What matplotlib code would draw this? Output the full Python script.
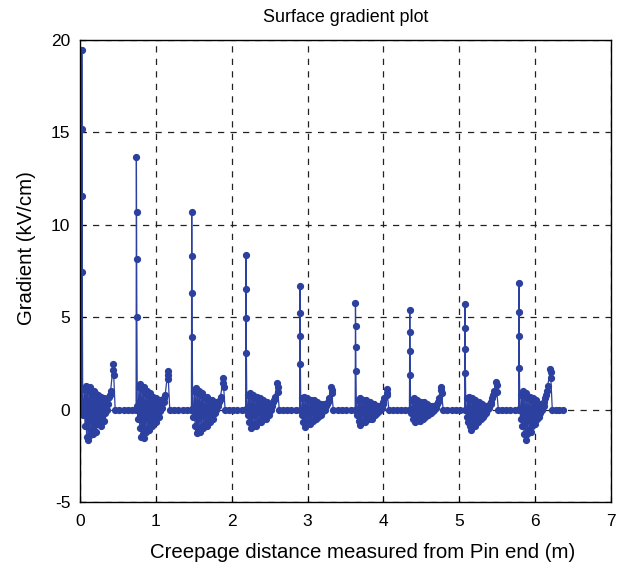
import numpy as np
import matplotlib.pyplot as plt

plt.rcParams['font.family'] = ['Liberation Sans', 'DejaVu Sans']
plt.rcParams['axes.unicode_minus'] = False

# %% data
spike_x = [0.022, 0.742, 1.472, 2.187, 2.899, 3.632, 4.348, 5.076, 5.788]
spike_vals = [
    [19.45, 15.2, 11.55, 7.44],
    [13.68, 10.67, 8.13, 5.02],
    [10.67, 8.32, 6.29, 3.91],
    [8.36, 6.50, 4.93, 3.06],
    [6.70, 5.24, 4.00, 2.45],
    [5.75, 4.52, 3.40, 2.08],
    [5.38, 4.21, 3.18, 1.87],
    [5.69, 4.43, 3.26, 1.96],
    [6.86, 5.29, 4.00, 2.23],
]
cluster_vals = [
    [0.1, -0.3, 1.1, -0.9, 1.3, -1.5, 1.2, -1.65, 1.0, -1.4, 1.2, -1.1, 0.8, -1.3,
     1.0, -0.9, 0.9, -1.2, 0.6, -0.8, 0.8, -0.6, 0.5, -0.9, 0.7, -0.4, 0.4, -0.6,
     0.6, -0.2, 0.5, 0.0, 0.6, 0.3, 0.7, 0.8, 1.0],
    [0.2, -0.5, 1.2, -1.0, 1.4, -1.5, 1.1, -1.3, 1.2, -1.55, 0.9, -1.2, 1.0, -1.0,
     0.8, -1.1, 0.9, -0.8, 0.6, -0.9, 0.7, -0.5, 0.5, -0.7, 0.6, -0.3, 0.4, -0.4,
     0.5, -0.1, 0.4, 0.1, 0.5, 0.4, 0.6, 0.8],
    [0.1, -0.4, 1.0, -0.9, 1.15, -1.27, 0.9, -1.1, 1.0, -1.2, 0.8, -0.9, 0.9, -1.0,
     0.7, -0.8, 0.6, -0.9, 0.7, -0.6, 0.5, -0.7, 0.4, -0.4, 0.5, -0.5, 0.3, -0.2,
     0.4, 0.0, 0.3, 0.2, 0.4, 0.5, 0.7],
    [0.1, -0.3, 0.8, -0.7, 0.9, -1.0, 0.7, -0.9, 0.8, -0.8, 0.6, -0.9, 0.7, -0.7,
     0.5, -0.6, 0.6, -0.7, 0.4, -0.5, 0.5, -0.4, 0.3, -0.5, 0.4, -0.2, 0.3, -0.3,
     0.3, 0.0, 0.3, 0.2, 0.4, 0.5, 0.7],
    [0.0, -0.3, 0.6, -0.7, 0.7, -0.93, 0.6, -0.8, 0.6, -0.7, 0.5, -0.8, 0.5, -0.6,
     0.4, -0.6, 0.5, -0.5, 0.3, -0.5, 0.4, -0.4, 0.3, -0.3, 0.3, -0.3, 0.2, -0.1,
     0.3, 0.0, 0.2, 0.2, 0.3, 0.4, 0.6],
    [0.0, -0.3, 0.5, -0.6, 0.6, -0.84, 0.5, -0.7, 0.5, -0.6, 0.4, -0.7, 0.5, -0.5,
     0.4, -0.5, 0.4, -0.4, 0.3, -0.5, 0.3, -0.3, 0.3, -0.3, 0.2, -0.2, 0.2, -0.1,
     0.2, 0.0, 0.2, 0.1, 0.3, 0.4, 0.6],
    [0.0, -0.2, 0.5, -0.5, 0.6, -0.66, 0.5, -0.6, 0.5, -0.5, 0.4, -0.6, 0.4, -0.4,
     0.3, -0.5, 0.4, -0.4, 0.3, -0.3, 0.3, -0.3, 0.2, -0.2, 0.2, -0.2, 0.2, -0.1,
     0.2, 0.0, 0.2, 0.1, 0.3, 0.4, 0.6],
    [0.0, -0.4, 0.6, -0.7, 0.7, -0.9, 0.5, -1.1, 0.6, -0.8, 0.5, -0.9, 0.5, -0.6,
     0.4, -0.7, 0.4, -0.5, 0.3, -0.5, 0.3, -0.4, 0.2, -0.3, 0.2, -0.2, 0.2, 0.0,
     0.2, 0.1, 0.3, 0.3, 0.4, 0.6, 0.8, 1.0],
    [0.1, -0.5, 0.8, -0.9, 1.0, -1.3, 0.7, -1.65, 0.9, -1.3, 0.6, -1.1, 0.7, -1.2,
     0.5, -0.9, 0.6, -0.7, 0.4, -0.8, 0.5, -0.5, 0.3, -0.4, 0.3, -0.2, 0.2, 0.0,
     0.3, 0.2, 0.4, 0.6, 0.8, 1.0, 1.3],
]
bump_vals = [
    [2.45, 2.15, 1.85],
    [2.10, 1.87, 1.65],
    [1.69, 1.42, 1.23],
    [1.42, 1.20, 0.96],
    [1.23, 1.05, 0.87],
    [1.09, 0.90, 0.80],
    [1.23, 1.05, 0.87],
    [1.50, 1.32, 0.96],
    [2.17, 2.05, 1.70],
]
end_x = 6.37

# %% assemble the line
xs, ys = [0.0], [0.0]
for k, sx in enumerate(spike_x):
    xs += [sx - 0.004]
    ys += [0.0]
    xs += [sx + 0.002 * i for i in range(4)]
    ys += spike_vals[k]
    cv = cluster_vals[k]
    xs += list(np.linspace(sx + 0.012, sx + 0.38, len(cv)))
    ys += cv
    bx = sx + 0.415
    xs += [bx, bx + 0.003, bx + 0.006]
    ys += bump_vals[k]
    if k + 1 < len(spike_x):
        gx = np.linspace(bx + 0.025, spike_x[k + 1] - 0.004, 6)[:-1]
    else:
        gx = np.linspace(bx + 0.025, end_x, 4)
    xs += list(gx)
    ys += [0.0] * len(gx)

fig = plt.figure(figsize=(6.31, 5.71), dpi=100)
ax = fig.add_axes([0.127, 0.121, 0.841, 0.809])
ax.plot(xs, ys, '-o', color='#2c40a0', ms=4.2, lw=0.9, mec='#2c40a0')

ax.set_xlim(0, 7)
ax.set_ylim(-5, 20)
ax.set_xticks(range(0, 8))
ax.set_yticks([-5, 0, 5, 10, 15, 20])
ax.grid(True, color='#222222', linestyle=(0, (5, 5)), linewidth=0.9)
ax.tick_params(direction='in', labelsize=12.5, length=4, top=False, right=False)
ax.tick_params(axis='x', pad=9)
ax.tick_params(axis='y', pad=7)
for s in ax.spines.values():
    s.set_linewidth(1.0)

ax.set_title('Surface gradient plot', fontsize=12.9, pad=13)
ax.set_xlabel('Creepage distance measured from Pin end (m)', fontsize=14.7)
ax.set_ylabel('Gradient (kV/cm)', fontsize=14.7)
ax.xaxis.set_label_coords(0.533, -0.089)
ax.yaxis.set_label_coords(-0.084, 0.55)

fig.savefig('out.png', dpi=100)
